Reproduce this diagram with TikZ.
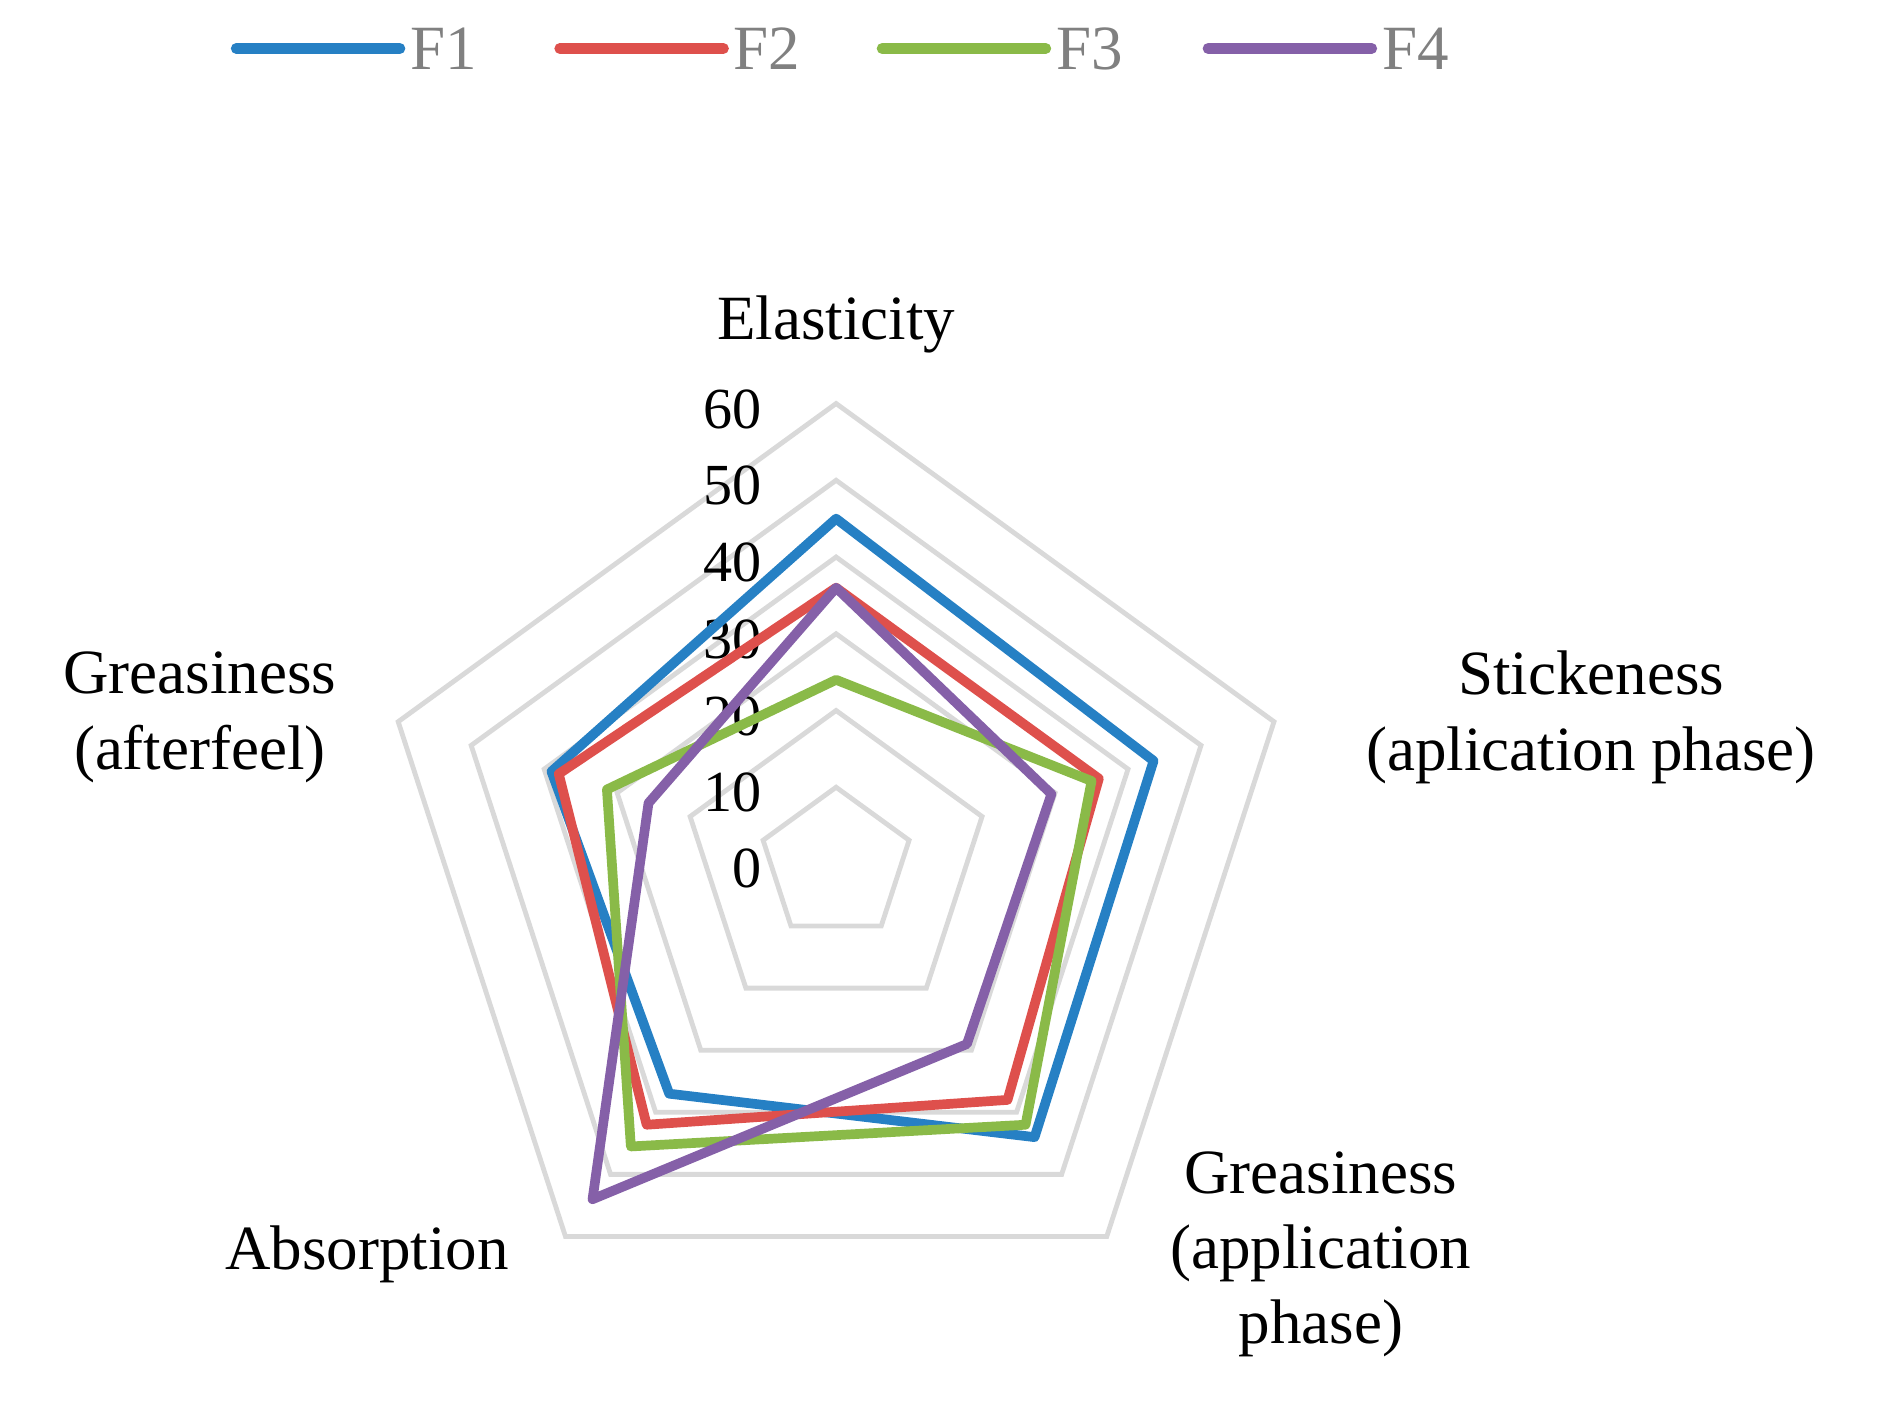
\documentclass[tikz,border=0pt]{standalone}
\usepackage{fontspec}
\setmainfont{Liberation Serif}
\usetikzlibrary{calc}
\begin{document}
\begin{tikzpicture}[x=1pt,y=-1pt,
  grid/.style={draw=gray!30,line width=4pt},
  ser/.style={line width=8pt,line join=round},
  lab/.style={font=\fontsize{52}{62}\selectfont,align=center},
  tick/.style={font=\fontsize{48}{56}\selectfont,anchor=east},
  leg/.style={font=\fontsize{52}{62}\selectfont,text=gray,anchor=west}]
\useasboundingbox (0,0) rectangle (1568,1175);
\coordinate (c) at (690,713);
\def\u{6.333}
\newcommand{\pt}[2]{($(c)+({#2*\u*cos(#1)},{-#2*\u*sin(#1)})$)}
\foreach \r in {10,20,...,60}
  \draw[grid] \pt{90}{\r} -- \pt{18}{\r} -- \pt{-54}{\r} -- \pt{-126}{\r} -- \pt{162}{\r} -- cycle;
\foreach \v/\y in {60/338,50/401,40/464,30/528,20/591,10/654,0/717}
  \node[tick] (t\v) at (632,\y) {\v};
\newcommand{\series}[6]{\draw[ser,draw=#1] \pt{90}{#2} -- \pt{18}{#3} -- \pt{-54}{#4} -- \pt{-126}{#5} -- \pt{162}{#6} -- cycle;}
\definecolor{c1}{RGB}{38,128,196}
\definecolor{c2}{RGB}{222,80,76}
\definecolor{c3}{RGB}{138,186,72}
\definecolor{c4}{RGB}{133,96,168}
\series{c1}{45}{43.5}{44}{37}{39}
\series{c2}{36}{36}{38}{42}{38}
\series{c3}{24}{35}{42}{45.5}{31.4}
\series{c4}{36}{29.5}{29}{54}{25.7}
\node[lab] (e) at (690,268) {Elasticity};
\node[lab] (s) at (1313,592) {Stickeness\\(aplication phase)};
\node[lab] (ga) at (165,592) {Greasiness\\(afterfeel)};
\node[lab] (ab) at (303,1035) {Absorption};
\node[lab] (gp) at (1090,1035) {Greasiness\\(application\\phase)};
\foreach \x/\n/\col in {195/F1/c1,462/F2/c2,728/F3/c3,997/F4/c4}{
  \coordinate (l\n) at (\x,40);
  \draw[line width=9pt,line cap=round,draw=\col] (l\n) -- ++(135,0);
  \node[leg] (n\n) at (\x+140,40) {\n};}
\end{tikzpicture}
\end{document}
